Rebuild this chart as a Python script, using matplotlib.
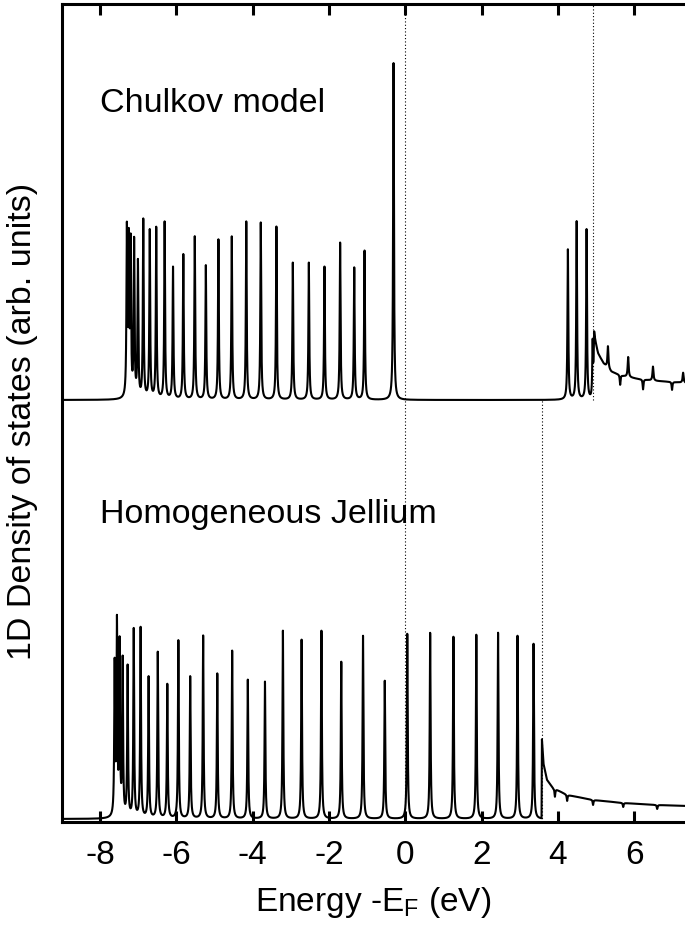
import matplotlib
matplotlib.use('Agg')
import matplotlib.pyplot as plt
import numpy as np

plt.rcParams['font.family'] = ['Liberation Sans', 'DejaVu Sans']

# Chulkov model: bound-state peaks (energy in eV, height in arb. units)
chulkov_E = [-7.30, -7.25, -7.20, -7.11, -7.01, -6.87, -6.70, -6.53, -6.31,
             -6.09, -5.82, -5.52, -5.23, -4.90, -4.55, -4.17, -3.79, -3.38,
             -2.95, -2.53, -2.12, -1.71, -1.34, -1.07, -0.31]
chulkov_h = [165, 150, 150, 155, 135, 178, 168, 171, 177,
             132, 145, 163, 134, 160, 163, 178, 177, 173,
             137, 137, 133, 157, 132, 149, 337]
# peaks above the vacuum level and continuum
chulkov_cb_E = [4.26, 4.49, 4.75, 4.91]
chulkov_cb_h = [150, 178, 170, 60]
chulkov_bg_E = [4.92, 4.95, 5.05, 5.2, 5.4, 5.7, 6.1, 6.6, 7.0, 7.4]
chulkov_bg_h = [0, 62, 46, 36, 28, 24, 21, 19, 18, 17]
chulkov_spike_E = [5.31, 5.84, 6.49, 7.28]
chulkov_spike_h = [22, 20, 14, 10]
chulkov_dip_E = [5.63, 6.23, 6.99]
chulkov_dip_h = [10, 10, 8]

# Homogeneous jellium
jell_E = [-7.62, -7.56, -7.49, -7.41, -7.28, -7.12, -6.94, -6.73, -6.49,
          -6.24, -5.95, -5.64, -5.30, -4.93, -4.54, -4.13, -3.68, -3.21,
          -2.72, -2.20, -1.68, -1.11, -0.54, 0.05, 0.65, 1.26, 1.86,
          2.43, 2.94, 3.36]
jell_h = [150, 190, 170, 155, 150, 188, 190, 141, 166,
          134, 178, 142, 183, 145, 168, 139, 137, 188,
          179, 188, 157, 183, 138, 185, 186, 182, 184,
          186, 183, 175]
jell_bg_E = [3.57, 3.58, 3.62, 3.71, 3.87, 4.24, 4.92, 5.71, 6.60, 7.4]
jell_bg_h = [0, 79, 55, 39, 31, 24, 19, 16, 14, 13]
jell_dip_E = [3.92, 4.24, 4.92, 5.71, 6.60]
jell_dip_h = [8, 6, 5, 4, 4]

top_base = 422   # vertical offset of the Chulkov curve
bot_base = 3
E_vac_chulkov = 4.92
E_vac_jell = 3.58


def lorentz_sum(E, centers, amps, g):
    out = np.zeros_like(E)
    for c, a in zip(centers, amps):
        out += a / (1.0 + ((E - c) / g) ** 2)
    return out


E = np.linspace(-9, 7.4, 24000)

dos_chulkov = (lorentz_sum(E, chulkov_E, chulkov_h, 0.013)
               + lorentz_sum(E, chulkov_cb_E, chulkov_cb_h, 0.013)
               + np.interp(E, chulkov_bg_E, chulkov_bg_h, left=0)
               + lorentz_sum(E, chulkov_spike_E, chulkov_spike_h, 0.015)
               - lorentz_sum(E, chulkov_dip_E, chulkov_dip_h, 0.012))
dos_jell = (lorentz_sum(E, jell_E, jell_h, 0.013)
            + np.interp(E, jell_bg_E, jell_bg_h, left=0)
            - lorentz_sum(E, jell_dip_E, jell_dip_h, 0.012))

fig = plt.figure(figsize=(6.85, 9.31), dpi=100)
ax = fig.add_axes([62 / 685, 109 / 931, 623 / 685, 818 / 931])

ax.plot(E, top_base + dos_chulkov, color='black', lw=1.5)
ax.plot(E, bot_base + dos_jell, color='black', lw=1.5)

# dotted markers: Fermi level and vacuum levels
ax.plot([0, 0], [0, 818], color='black', lw=0.8, ls=(0, (1, 2)))
ax.plot([E_vac_chulkov] * 2, [top_base, 818], color='black', lw=0.8, ls=(0, (1, 2)))
ax.plot([E_vac_jell] * 2, [0, top_base], color='black', lw=0.8, ls=(0, (1, 2)))

ax.text(-8.0, 719, 'Chulkov model', fontsize=24.5, va='center', ha='left')
ax.text(-8.0, 307, 'Homogeneous Jellium', fontsize=24.5, va='center', ha='left')

ax.set_xlim(-9, 7.33)
ax.set_ylim(0, 818)
ax.set_xticks([-8, -6, -4, -2, 0, 2, 4, 6])
ax.set_xticklabels(['-8', '-6', '-4', '-2', '0', '2', '4', '6'])
ax.set_yticks([])
ax.tick_params(axis='x', direction='in', top=True, length=8, width=2.2,
               labelsize=24, pad=13)
for s in ['left', 'bottom', 'top']:
    ax.spines[s].set_linewidth(2.2)
ax.spines['right'].set_visible(False)

ax.set_xlabel('Energy -E$_\\mathregular{F}$ (eV)', fontsize=24, labelpad=10)
ax.set_ylabel('1D Density of states (arb. units)', fontsize=24.5)
ax.yaxis.set_label_coords(-0.038, 0.49)

fig.savefig('out.png', dpi=100)
